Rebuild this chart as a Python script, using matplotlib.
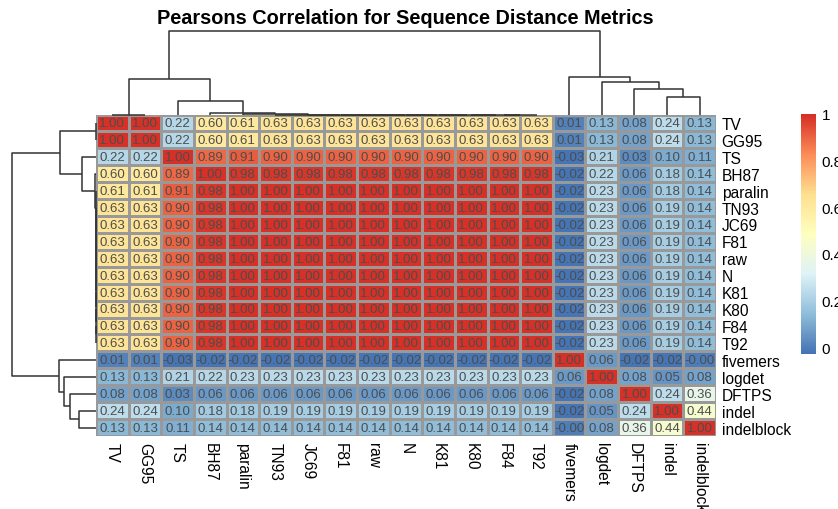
import numpy as np
import matplotlib
matplotlib.use("Agg")
import matplotlib.pyplot as plt
from matplotlib.colors import LinearSegmentedColormap

plt.rcParams['font.family'] = ['Liberation Sans', 'DejaVu Sans']

labels = ["TV", "GG95", "TS", "BH87", "paralin", "TN93", "JC69", "F81", "raw", "N",
          "K81", "K80", "F84", "T92", "fivemers", "logdet", "DFTPS", "indel", "indelblock"]

tv         = [1.00, 1.00, 0.22, 0.60, 0.61, 0.63, 0.63, 0.63, 0.63, 0.63, 0.63, 0.63, 0.63, 0.63, 0.01, 0.13, 0.08, 0.24, 0.13]
gg95       = [1.00, 1.00, 0.22, 0.60, 0.61, 0.63, 0.63, 0.63, 0.63, 0.63, 0.63, 0.63, 0.63, 0.63, 0.01, 0.13, 0.08, 0.24, 0.13]
ts         = [0.22, 0.22, 1.00, 0.89, 0.91, 0.90, 0.90, 0.90, 0.90, 0.90, 0.90, 0.90, 0.90, 0.90, -0.03, 0.21, 0.03, 0.10, 0.11]
bh87       = [0.60, 0.60, 0.89, 1.00, 0.98, 0.98, 0.98, 0.98, 0.98, 0.98, 0.98, 0.98, 0.98, 0.98, -0.02, 0.22, 0.06, 0.18, 0.14]
paralin    = [0.61, 0.61, 0.91, 0.98, 1.00, 1.00, 1.00, 1.00, 1.00, 1.00, 1.00, 1.00, 1.00, 1.00, -0.02, 0.23, 0.06, 0.18, 0.14]
tn93       = [0.63, 0.63, 0.90, 0.98, 1.00, 1.00, 1.00, 1.00, 1.00, 1.00, 1.00, 1.00, 1.00, 1.00, -0.02, 0.23, 0.06, 0.19, 0.14]
jc69       = [0.63, 0.63, 0.90, 0.98, 1.00, 1.00, 1.00, 1.00, 1.00, 1.00, 1.00, 1.00, 1.00, 1.00, -0.02, 0.23, 0.06, 0.19, 0.14]
f81        = [0.63, 0.63, 0.90, 0.98, 1.00, 1.00, 1.00, 1.00, 1.00, 1.00, 1.00, 1.00, 1.00, 1.00, -0.02, 0.23, 0.06, 0.19, 0.14]
raw        = [0.63, 0.63, 0.90, 0.98, 1.00, 1.00, 1.00, 1.00, 1.00, 1.00, 1.00, 1.00, 1.00, 1.00, -0.02, 0.23, 0.06, 0.19, 0.14]
n_         = [0.63, 0.63, 0.90, 0.98, 1.00, 1.00, 1.00, 1.00, 1.00, 1.00, 1.00, 1.00, 1.00, 1.00, -0.02, 0.23, 0.06, 0.19, 0.14]
k81        = [0.63, 0.63, 0.90, 0.98, 1.00, 1.00, 1.00, 1.00, 1.00, 1.00, 1.00, 1.00, 1.00, 1.00, -0.02, 0.23, 0.06, 0.19, 0.14]
k80        = [0.63, 0.63, 0.90, 0.98, 1.00, 1.00, 1.00, 1.00, 1.00, 1.00, 1.00, 1.00, 1.00, 1.00, -0.02, 0.23, 0.06, 0.19, 0.14]
f84        = [0.63, 0.63, 0.90, 0.98, 1.00, 1.00, 1.00, 1.00, 1.00, 1.00, 1.00, 1.00, 1.00, 1.00, -0.02, 0.23, 0.06, 0.19, 0.14]
t92        = [0.63, 0.63, 0.90, 0.98, 1.00, 1.00, 1.00, 1.00, 1.00, 1.00, 1.00, 1.00, 1.00, 1.00, -0.02, 0.23, 0.06, 0.19, 0.14]
fivemers   = [0.01, 0.01, -0.03, -0.02, -0.02, -0.02, -0.02, -0.02, -0.02, -0.02, -0.02, -0.02, -0.02, -0.02, 1.00, 0.06, -0.02, -0.02, -0.004]
logdet     = [0.13, 0.13, 0.21, 0.22, 0.23, 0.23, 0.23, 0.23, 0.23, 0.23, 0.23, 0.23, 0.23, 0.23, 0.06, 1.00, 0.08, 0.05, 0.08]
dftps      = [0.08, 0.08, 0.03, 0.06, 0.06, 0.06, 0.06, 0.06, 0.06, 0.06, 0.06, 0.06, 0.06, 0.06, -0.02, 0.08, 1.00, 0.24, 0.36]
indel      = [0.24, 0.24, 0.10, 0.18, 0.18, 0.19, 0.19, 0.19, 0.19, 0.19, 0.19, 0.19, 0.19, 0.19, -0.02, 0.05, 0.24, 1.00, 0.44]
indelblock = [0.13, 0.13, 0.11, 0.14, 0.14, 0.14, 0.14, 0.14, 0.14, 0.14, 0.14, 0.14, 0.14, 0.14, -0.004, 0.08, 0.36, 0.44, 1.00]

corr = np.array([tv, gg95, ts, bh87, paralin, tn93, jc69, f81, raw, n_, k81, k80,
                 f84, t92, fivemers, logdet, dftps, indel, indelblock])
nvar = len(labels)

# dendrogram: span [lo, hi) joined at mid, height relative to the root
merge_lo  = [12, 11, 10, 9, 8, 7, 6, 5, 0, 4, 3, 2, 17, 16, 15, 0, 14, 0]
merge_mid = [13, 12, 11, 10, 9, 8, 7, 6, 1, 5, 4, 3, 18, 17, 16, 2, 15, 14]
merge_hi  = [14, 14, 14, 14, 14, 14, 14, 14, 2, 14, 14, 14, 19, 19, 19, 14, 19, 19]
merge_h   = [0, 0, 0, 0, 0, 0, 0, 0, 0, 0.005, 0.015, 0.165, 0.205, 0.31, 0.385, 0.425, 0.445, 1.0]

# pheatmap colours: rev(brewer.pal(7, "RdYlBu")), 100 steps
cmap = LinearSegmentedColormap.from_list(
    "rdylbu", ["#4575B4", "#91BFDB", "#E0F3F8", "#FFFFBF", "#FEE090", "#FC8D59", "#D73027"], N=100)
vmin, vmax = corr.min(), corr.max()

# U-shaped links, leaves at index + 0.5, parents at the midpoint of their children
nodes = {}
links = []
for lo, mid, hi, h in zip(merge_lo, merge_mid, merge_hi, merge_h):
    pa, ha = nodes.get((lo, mid), (lo + 0.5, 0.0))
    pb, hb = nodes.get((mid, hi), (mid + 0.5, 0.0))
    links.append(([pa, pa, pb, pb], [ha, h, h, hb]))
    nodes[(lo, hi)] = ((pa + pb) / 2, h)

W, H = 838, 510
fig = plt.figure(figsize=(W / 100, H / 100), dpi=100)


def px_axes(x0, y0, x1, y1):
    return fig.add_axes([x0 / W, 1 - y1 / H, (x1 - x0) / W, (y1 - y0) / H])


hx0, hy0, hx1, hy1 = 96, 115.5, 716, 437

# heatmap
ax = px_axes(hx0, hy0, hx1, hy1)
ax.pcolormesh(np.arange(nvar + 1), np.arange(nvar + 1), corr, cmap=cmap, vmin=vmin, vmax=vmax,
              edgecolors="#999999", linewidth=0.8)
ax.set_xlim(0, nvar)
ax.set_ylim(nvar, 0)
for i in range(nvar):
    for j in range(nvar):
        ax.text(j + 0.5, i + 0.52, "%.2f" % corr[i, j], ha="center", va="center",
                fontsize=9.5, color="#4D4D4D")
ax.set_xticks(np.arange(nvar) + 0.5)
ax.set_xticklabels(labels, rotation=270, ha="center", va="top", fontsize=11.2)
ax.set_yticks(np.arange(nvar) + 0.5)
ax.set_yticklabels(labels, fontsize=11.2)
ax.yaxis.tick_right()
ax.tick_params(length=0, pad=4)
for s in ax.spines.values():
    s.set_visible(False)

# column dendrogram
axc = px_axes(hx0, 31.7, hx1, hy0)
for xs, ys in links:
    axc.plot(xs, ys, color="#333333", lw=1.1, clip_on=False, solid_capstyle="butt")
axc.set_xlim(0, nvar)
axc.set_ylim(0, 1)
axc.axis("off")

# row dendrogram
axr = px_axes(12, hy0, hx0, hy1)
for xs, ys in links:
    axr.plot(ys, xs, color="#333333", lw=1.1, clip_on=False, solid_capstyle="butt")
axr.set_ylim(nvar, 0)
axr.set_xlim(1, 0)
axr.axis("off")

# colour legend
axl = px_axes(801, 115, 816, 355)
grad = np.linspace(vmin, vmax, 100).reshape(-1, 1)
axl.imshow(grad, cmap=cmap, vmin=vmin, vmax=vmax, aspect="auto", origin="lower",
           extent=[0, 1, vmin, vmax])
axl.set_xticks([])
axl.yaxis.tick_right()
axl.set_yticks([0, 0.2, 0.4, 0.6, 0.8, 1])
axl.set_yticklabels(["0", "0.2", "0.4", "0.6", "0.8", "1"], fontsize=11)
axl.tick_params(length=0, pad=4)
for s in axl.spines.values():
    s.set_visible(False)

fig.text(405 / W, 1 - 18 / H, "Pearsons Correlation for Sequence Distance Metrics",
         ha="center", va="center", fontsize=14.3, fontweight="bold")

fig.savefig("out.png", dpi=100)
